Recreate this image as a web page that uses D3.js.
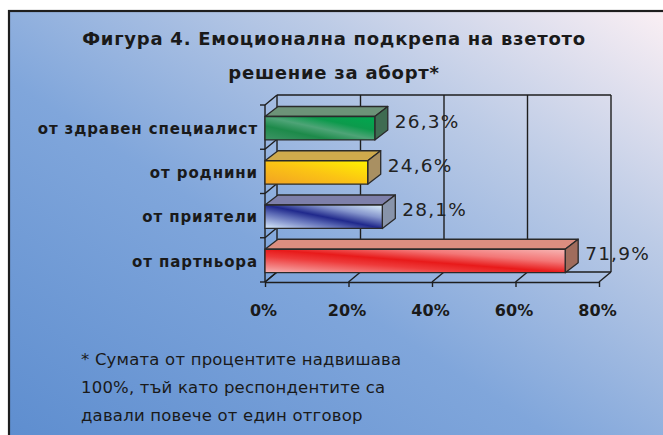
<!DOCTYPE html>
<html>
<head>
<meta charset="utf-8">
<script src="https://cdn.jsdelivr.net/npm/d3@7"></script>
<style>
  html, body { margin: 0; padding: 0; background: #fff; }
  svg { display: block; }
</style>
</head>
<body>
<div id="chart"></div>
<script>
// data
const categories = ["от здравен специалист", "от роднини", "от приятели", "от партньора"];
const values = [26.3, 24.6, 28.1, 71.9];
const valueLabels = ["26,3%", "24,6%", "28,1%", "71,9%"];
const xTicks = [0, 20, 40, 60, 80];
const titleLines = ["Фигура 4. Емоционална подкрепа на взетото", "решение за аборт*"];
const noteLines = ["* Сумата от процентите надвишава", "100%, тъй като респондентите са", "давали повече от един отговор"];

function makeChart() {
  let svgWidth = 663;
  let svgHeight = 435;

  let plot = { left: 265, right: 599, top: 105, bottom: 282 };
  let depth = { x: 12, y: -10 };     // wall depth
  let barDepth = { x: 13, y: -10 };  // bar depth

  let svg = d3.select("#chart")
    .append("svg")
    .attr("width", svgWidth)
    .attr("height", svgHeight);

  let defs = svg.append("defs");

  let bg = defs.append("linearGradient")
    .attr("id", "bg")
    .attr("x1", 0).attr("y1", 1).attr("x2", 1).attr("y2", 0);
  [["0", "#5d8dcf"], ["0.42", "#80a6db"], ["0.72", "#bccbe6"], ["1", "#fcf0f4"]]
    .forEach(s => bg.append("stop").attr("offset", s[0]).attr("stop-color", s[1]));

  // face colours for each bar
  let fronts = [
    [["0", "#3f9466"], ["0.3", "#1d8a4a"], ["0.5", "#4ea477"], ["0.7", "#0c9a4c"], ["1", "#00a94f"]],
    [["0", "#f2a224"], ["0.5", "#fbc414"], ["1", "#fff200"]],
    [["0", "#dcefff"], ["0.35", "#5a68b4"], ["0.5", "#20298c"], ["0.72", "#8595cc"], ["1", "#dcf0fb"]],
    [["0", "#f6b4b4"], ["0.35", "#ee3a3a"], ["0.5", "#e81a1a"], ["0.72", "#f37676"], ["1", "#f7b6b4"]]
  ];
  let tops = ["#6d9378", "#cfaa4c", "#7e80aa", "#dc8e80"];
  let sides = ["#3f6c52", "#a99062", "#8894aa", "#a06c5c"];

  fronts.forEach(function(stops, i) {
    let g = defs.append("linearGradient")
      .attr("id", "front" + i)
      .attr("x1", 0).attr("y1", 1).attr("x2", 1).attr("y2", 0);
    stops.forEach(s => g.append("stop").attr("offset", s[0]).attr("stop-color", s[1]));
  });

  // white page with framed gradient panel
  svg.append("rect")
    .attr("x", 9).attr("y", 11)
    .attr("width", svgWidth).attr("height", svgHeight)
    .attr("fill", "url(#bg)")
    .attr("stroke", "#1e1e1e")
    .attr("stroke-width", 2.2);

  // title
  svg.append("g").selectAll("text")
    .data(titleLines)
    .enter()
    .append("text")
    .attr("x", 334)
    .attr("y", (d, i) => 45 + i * 34)
    .attr("text-anchor", "middle")
    .attr("font-family", "DejaVu Sans, sans-serif")
    .attr("font-weight", "bold")
    .attr("font-size", "18px")
    .attr("letter-spacing", "0.75px")
    .attr("fill", "#1a1a1a")
    .text(d => d);

  let x = d3.scaleLinear()
    .domain([0, 80])
    .range([plot.left, plot.right]);

  let y = d3.scaleBand()
    .domain(categories)
    .range([plot.top, plot.bottom]);

  let line = "#1e1e1e";
  let frame = svg.append("g")
    .attr("stroke", line)
    .attr("stroke-width", 1.4)
    .attr("fill", "none");

  // back wall grid
  frame.selectAll(".grid")
    .data(xTicks)
    .enter()
    .append("line")
    .attr("x1", d => x(d) + depth.x)
    .attr("x2", d => x(d) + depth.x)
    .attr("y1", plot.top + depth.y)
    .attr("y2", plot.bottom + depth.y);

  frame.append("line")
    .attr("x1", x(0) + depth.x).attr("x2", x(80) + depth.x)
    .attr("y1", plot.top + depth.y).attr("y2", plot.top + depth.y);
  frame.append("line")
    .attr("x1", x(0) + depth.x).attr("x2", x(80) + depth.x)
    .attr("y1", plot.bottom + depth.y).attr("y2", plot.bottom + depth.y);

  // floor diagonals
  frame.selectAll(".floor")
    .data(xTicks)
    .enter()
    .append("line")
    .attr("x1", d => x(d))
    .attr("x2", d => x(d) + depth.x)
    .attr("y1", plot.bottom)
    .attr("y2", plot.bottom + depth.y);

  // left wall
  frame.append("line")
    .attr("x1", plot.left).attr("x2", plot.left)
    .attr("y1", plot.top).attr("y2", plot.bottom);

  let bounds = categories.map(c => y(c)).concat([plot.bottom]);
  frame.selectAll(".ldiag")
    .data(bounds)
    .enter()
    .append("line")
    .attr("x1", plot.left).attr("x2", plot.left + depth.x)
    .attr("y1", d => d).attr("y2", d => d + depth.y);
  frame.selectAll(".ltick")
    .data(bounds)
    .enter()
    .append("line")
    .attr("x1", plot.left - 5).attr("x2", plot.left)
    .attr("y1", d => d).attr("y2", d => d);

  // bars
  let bars = svg.append("g")
    .selectAll("g")
    .data(values)
    .enter()
    .append("g")
    .attr("stroke", "#2a2a2a")
    .attr("stroke-width", 1.3)
    .attr("stroke-linejoin", "round");

  let barTop = (d, i) => y(categories[i]) + y.bandwidth() * 0.26;
  let barH = y.bandwidth() * 0.53;

  bars.append("polygon")
    .attr("fill", (d, i) => tops[i])
    .attr("points", function(d, i) {
      let y0 = barTop(d, i), x0 = x(0), x1 = x(d);
      return [[x0, y0], [x0 + barDepth.x, y0 + barDepth.y], [x1 + barDepth.x, y0 + barDepth.y], [x1, y0]].join(" ");
    });

  bars.append("polygon")
    .attr("fill", (d, i) => sides[i])
    .attr("points", function(d, i) {
      let y0 = barTop(d, i), x1 = x(d);
      return [[x1, y0], [x1 + barDepth.x, y0 + barDepth.y], [x1 + barDepth.x, y0 + barH + barDepth.y], [x1, y0 + barH]].join(" ");
    });

  bars.append("rect")
    .attr("x", x(0))
    .attr("y", (d, i) => barTop(d, i))
    .attr("width", d => x(d) - x(0))
    .attr("height", barH)
    .attr("fill", (d, i) => "url(#front" + i + ")");

  // value labels
  svg.append("g").selectAll("text")
    .data(values)
    .enter()
    .append("text")
    .attr("x", d => x(d) + barDepth.x + 7)
    .attr("y", (d, i) => barTop(d, i) + 11)
    .attr("font-family", "DejaVu Sans, sans-serif")
    .attr("font-size", "18.5px")
    .attr("letter-spacing", "1.2px")
    .attr("fill", "#222")
    .text((d, i) => valueLabels[i]);

  // category axis
  let yAxis = d3.axisLeft(y).tickSize(0).tickPadding(7);
  let yg = svg.append("g")
    .attr("transform", `translate(${plot.left}, 2)`)
    .call(yAxis);
  yg.select(".domain").remove();
  yg.selectAll("text")
    .attr("font-family", "DejaVu Sans, sans-serif")
    .attr("font-weight", "bold")
    .attr("font-size", "15px")
    .attr("letter-spacing", "0.9px")
    .attr("fill", "#1a1a1a");

  // value axis
  let xAxis = d3.axisBottom(x)
    .tickValues(xTicks)
    .tickFormat(d => d + "%")
    .tickSizeInner(5)
    .tickSizeOuter(0)
    .tickPadding(18);
  let xg = svg.append("g")
    .attr("transform", `translate(0, ${plot.bottom})`)
    .call(xAxis);
  xg.select(".domain").attr("stroke", line).attr("stroke-width", 1.4);
  xg.selectAll(".tick line").attr("stroke", line).attr("stroke-width", 1.4);
  xg.selectAll("text")
    .attr("dx", -2)
    .attr("font-family", "DejaVu Sans, sans-serif")
    .attr("font-weight", "bold")
    .attr("font-size", "16px")
    .attr("fill", "#1a1a1a");

  // footnote
  svg.append("g").selectAll("text")
    .data(noteLines)
    .enter()
    .append("text")
    .attr("x", 81)
    .attr("y", (d, i) => 365 + i * 28)
    .attr("font-family", "DejaVu Sans, sans-serif")
    .attr("font-size", "16.5px")
    .attr("letter-spacing", "0.2px")
    .attr("fill", "#1a1a1a")
    .text(d => d);
}

makeChart();
</script>
</body>
</html>
